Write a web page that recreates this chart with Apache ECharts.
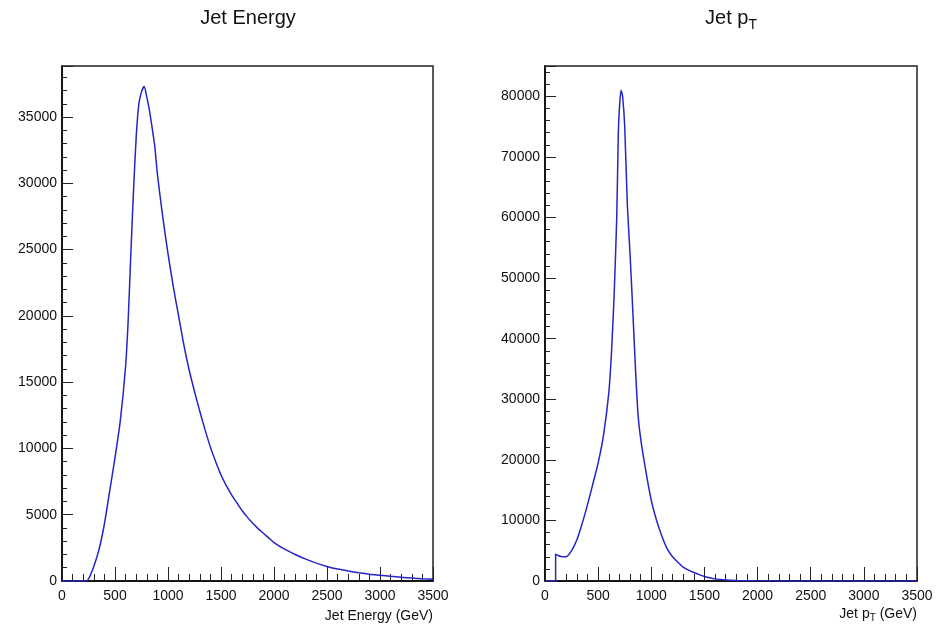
<!DOCTYPE html>
<html>
<head>
<meta charset="utf-8">
<script src="https://cdn.jsdelivr.net/npm/echarts@6/dist/echarts.min.js"></script>
<style>
html,body{margin:0;padding:0;background:#fff;}
#chart{width:944px;height:624px;}
</style>
</head>
<body>
<div id="chart"></div>
<script>
// Jet Energy histogram (GeV, entries)
const energyX = [0, 100, 200, 225, 250, 300, 350, 400, 450, 500, 550, 600, 625, 650, 675, 700, 725, 750, 775, 800, 825, 850, 875, 900, 950, 1000, 1050, 1100, 1150, 1200, 1250, 1300, 1350, 1400, 1450, 1500, 1550, 1600, 1650, 1700, 1750, 1800, 1850, 1900, 1950, 2000, 2100, 2200, 2300, 2400, 2500, 2600, 2700, 2800, 2900, 3000, 3100, 3200, 3300, 3400, 3500];
const energyY = [0, 0, 0, 0, 150, 1100, 2400, 4300, 6800, 9300, 12100, 16200, 19800, 24800, 29500, 33500, 36000, 36900, 37300, 36500, 35500, 34200, 32800, 30700, 27500, 24700, 22200, 20000, 17800, 15900, 14300, 12800, 11400, 10100, 9000, 8000, 7200, 6500, 5900, 5300, 4800, 4350, 3950, 3600, 3250, 2900, 2400, 2000, 1650, 1350, 1100, 900, 750, 620, 510, 430, 350, 280, 220, 170, 130];

// Jet pT histogram (GeV, entries)
const ptX = [0, 50, 100, 100, 125, 150, 200, 250, 300, 350, 400, 450, 500, 550, 600, 625, 650, 675, 690, 700, 715, 730, 750, 775, 800, 825, 850, 875, 900, 950, 1000, 1050, 1100, 1150, 1200, 1250, 1300, 1350, 1400, 1450, 1500, 1550, 1600, 1700, 1800, 2000, 2500, 3000, 3500];
const ptY = [0, 0, 0, 4450, 4200, 4050, 4000, 5000, 6800, 9500, 12600, 16000, 19500, 24000, 31000, 37500, 47000, 60000, 74000, 78000, 81000, 80000, 75000, 62000, 54000, 45000, 35500, 27500, 23500, 18000, 13300, 10000, 7400, 5300, 4000, 3100, 2300, 1800, 1400, 1050, 750, 520, 350, 180, 90, 30, 5, 0, 0];

const energyData = energyX.map((x, i) => [x, energyY[i]]);
const ptData = ptX.map((x, i) => [x, ptY[i]]);

const lineColor = '#2424c8';
const textColor = '#111';
const fontFam = '"Liberation Sans", Arial, Helvetica, sans-serif';
const plain = v => String(v);

function xAxisCfg(gridIndex) {
  return {
    type: 'value', gridIndex: gridIndex, min: 0, max: 3500, interval: 500,
    axisLine: {show: true, onZero: false, lineStyle: {color: '#000', width: 1.5}},
    axisTick: {show: true, inside: true, length: 14, lineStyle: {color: '#222', width: 1}},
    minorTick: {show: true, splitNumber: 5, length: 7, lineStyle: {color: '#222', width: 1}},
    splitLine: {show: false},
    axisLabel: {color: textColor, fontSize: 14, fontFamily: fontFam, margin: 8, formatter: plain}
  };
}
function yAxisCfg(gridIndex, max, interval, minorSplit) {
  return {
    type: 'value', gridIndex: gridIndex, min: 0, max: max, interval: interval,
    axisLine: {show: true, onZero: false, lineStyle: {color: '#000', width: 1.5}},
    axisTick: {show: true, inside: true, length: 11, lineStyle: {color: '#222', width: 1}},
    minorTick: {show: true, splitNumber: minorSplit, length: 5, lineStyle: {color: '#222', width: 1}},
    splitLine: {show: false},
    axisLabel: {color: textColor, fontSize: 14, fontFamily: fontFam, margin: 5, showMaxLabel: false, formatter: plain}
  };
}

const chart = echarts.init(document.getElementById('chart'), null, {renderer: 'canvas'});
chart.setOption({
  backgroundColor: '#fff',
  animation: false,
  graphic: [
    {type: 'text', x: 248, y: 18, style: {text: 'Jet Energy', align: 'center', verticalAlign: 'middle',
      font: 'normal 20px ' + fontFam, fill: textColor}},
    {type: 'text', x: 731, y: 18, style: {text: '{a|Jet p}{s|T}', align: 'center', verticalAlign: 'middle',
      fill: textColor,
      rich: {
        a: {fontSize: 20, fontWeight: 'normal', fontFamily: fontFam, fill: textColor, color: textColor},
        s: {fontSize: 14, fontWeight: 'normal', fontFamily: fontFam, fill: textColor, color: textColor, padding: [14, 0, 0, 0]}
      }}},
    {type: 'text', x: 433, y: 616, style: {text: 'Jet Energy (GeV)', align: 'right', verticalAlign: 'middle',
      font: 'normal 14px ' + fontFam, fill: textColor}},
    {type: 'text', x: 917, y: 614, style: {text: '{a|Jet p}{s|T}{a| (GeV)}', align: 'right', verticalAlign: 'middle',
      fill: textColor,
      rich: {
        a: {fontSize: 14, fontWeight: 'normal', fontFamily: fontFam, fill: textColor, color: textColor},
        s: {fontSize: 10, fontWeight: 'normal', fontFamily: fontFam, fill: textColor, color: textColor, padding: [9, 0, 0, 0]}
      }}}
  ],
  grid: [
    {left: 62, right: 511, top: 66, bottom: 43, show: true, borderColor: '#222', borderWidth: 1.5, backgroundColor: 'transparent'},
    {left: 545, right: 27, top: 66, bottom: 43, show: true, borderColor: '#222', borderWidth: 1.5, backgroundColor: 'transparent'}
  ],
  xAxis: [xAxisCfg(0), xAxisCfg(1)],
  yAxis: [yAxisCfg(0, 38850, 5000, 5), yAxisCfg(1, 85000, 10000, 5)],
  series: [
    {type: 'line', xAxisIndex: 0, yAxisIndex: 0, data: energyData, showSymbol: false, smooth: 0.25,
     lineStyle: {color: lineColor, width: 1.5}, itemStyle: {color: lineColor}},
    {type: 'line', xAxisIndex: 1, yAxisIndex: 1, data: ptData, showSymbol: false, smooth: 0.2,
     lineStyle: {color: lineColor, width: 1.5}, itemStyle: {color: lineColor}}
  ]
});
</script>
</body>
</html>
